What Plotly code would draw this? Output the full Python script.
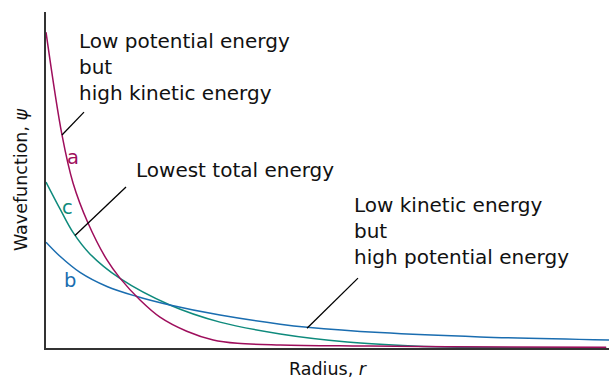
import plotly.graph_objects as go

# Radius (arbitrary units) and wavefunction values
r_a = [0, 0.284, 0.48, 0.746, 1.083, 1.314, 1.67, 2.025, 2.50, 2.97, 3.4, 4.16, 5.5, 7.12, 9.95]
psi_a = [0.940, 0.634, 0.491, 0.372, 0.262, 0.208, 0.143, 0.092, 0.050, 0.024, 0.014, 0.009, 0.006, 0.004, 0.002]

r_c = [0, 0.249, 0.48, 0.78, 1.314, 2.20, 3.09, 4.16, 5.35, 6.52, 7.41, 9.95]
psi_c = [0.494, 0.414, 0.344, 0.280, 0.207, 0.128, 0.077, 0.042, 0.018, 0.006, 0.002, 0.001]

r_b = [0, 0.249, 0.604, 1.083, 1.6, 2.20, 3.09, 4.16, 4.64, 5.93, 7.71, 10]
psi_b = [0.315, 0.273, 0.225, 0.183, 0.154, 0.128, 0.098, 0.071, 0.062, 0.046, 0.033, 0.024]

curve_labels = ["a", "c", "b"]
col_a, col_b, col_c = "#9E0E5C", "#1A6DB0", "#0E8A7C"

FONT = "DejaVu Sans"

fig = go.Figure()
for xs, ys, col in [(r_c, psi_c, col_c), (r_b, psi_b, col_b), (r_a, psi_a, col_a)]:
    fig.add_trace(go.Scatter(x=xs, y=ys, mode="lines",
                             line=dict(color=col, width=1.5, shape="spline", smoothing=1.0),
                             hoverinfo="skip"))

# leader lines
leaders = [((0.284, 0.634), (0.675, 0.702)),
           ((0.515, 0.335), (1.421, 0.479)),
           ((4.636, 0.0590), (5.542, 0.208))]
for (x0, y0), (x1, y1) in leaders:
    fig.add_shape(type="line", x0=x0, y0=y0, x1=x1, y1=y1, xref="x", yref="y",
                  line=dict(color="black", width=1.3))

texts = [("Low potential energy<br>but<br>high kinetic energy", 0.55, 0.955),
         ("Lowest total energy", 1.565, 0.570),
         ("Low kinetic energy<br>but<br>high potential energy", 5.44, 0.466)]
for t, x, y in texts:
    fig.add_annotation(text=t, x=x, y=y, xref="x", yref="y", xanchor="left", yanchor="top",
                       align="left", showarrow=False, font=dict(family=FONT, size=20, color="#111"))

for lab, x, y, c in zip(curve_labels, [0.48, 0.373, 0.426], [0.568, 0.417, 0.202], [col_a, col_c, col_b]):
    fig.add_annotation(text=lab, x=x, y=y, xref="x", yref="y", showarrow=False,
                       font=dict(family=FONT, size=19.5, color=c))

fig.update_layout(
    width=609, height=379,
    margin=dict(l=46, r=0, t=12, b=31),
    paper_bgcolor="white", plot_bgcolor="white",
    showlegend=False,
    font=dict(family=FONT, size=18, color="#111"),
    xaxis=dict(range=[0, 10], showgrid=False, zeroline=False, showticklabels=False, ticks="",
               showline=True, linecolor="#333", linewidth=1.6, automargin=False,
               title=dict(text="Radius, <i>r</i>", standoff=15, font=dict(size=17.5))),
    yaxis=dict(range=[0, 1], showgrid=False, zeroline=False, showticklabels=False, ticks="",
               showline=True, linecolor="#333", linewidth=1.6, automargin=False,
               title=dict(text="Wavefunction, <i>ψ</i>", standoff=12, font=dict(size=17.5))),
)

fig.write_html("out.html", config={"displayModeBar": False},
               post_script="document.body.style.margin='0';document.body.style.overflow='hidden';")
